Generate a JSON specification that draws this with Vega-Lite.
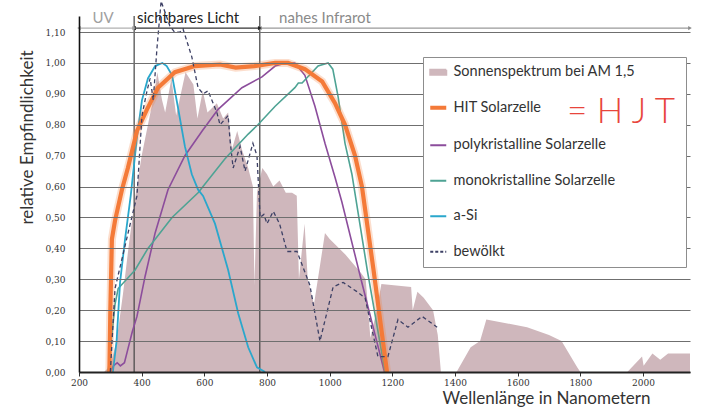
{
  "$schema": "https://vega.github.io/schema/vega-lite/v6.json",
  "width": 611,
  "height": 356,
  "autosize": {"type": "none"},
  "padding": {"left": 79, "top": 16, "right": 30, "bottom": 47},
  "background": "white",
  "config": {"view": {"stroke": null}, "axisY": {"tickCount": 12, "labelOverlap": false}},
  "datasets": {
    "spec": [
      {"nm":280,"v":0},{"nm":300,"v":0.02},{"nm":320,"v":0.1},{"nm":340,"v":0.25},{"nm":360,"v":0.42},{"nm":380,"v":0.57},{"nm":400,"v":0.70},{"nm":420,"v":0.80},{"nm":440,"v":0.90},{"nm":450,"v":0.97},{"nm":465,"v":0.88},{"nm":475,"v":0.84},{"nm":495,"v":0.95},{"nm":510,"v":0.83},{"nm":540,"v":0.97},{"nm":565,"v":0.93},{"nm":578,"v":0.82},{"nm":595,"v":0.91},{"nm":610,"v":0.84},{"nm":640,"v":0.87},{"nm":660,"v":0.82},{"nm":676,"v":0.84},{"nm":688,"v":0.72},{"nm":705,"v":0.78},{"nm":720,"v":0.72},{"nm":740,"v":0.66},{"nm":755,"v":0.60},{"nm":760,"v":0.28},{"nm":768,"v":0.58},{"nm":785,"v":0.66},{"nm":800,"v":0.64},{"nm":820,"v":0.60},{"nm":840,"v":0.62},{"nm":860,"v":0.58},{"nm":880,"v":0.58},{"nm":895,"v":0.57},{"nm":902,"v":0.30},{"nm":920,"v":0.48},{"nm":930,"v":0.30},{"nm":950,"v":0.22},{"nm":970,"v":0.35},{"nm":985,"v":0.45},{"nm":1000,"v":0.43},{"nm":1050,"v":0.38},{"nm":1100,"v":0.32},{"nm":1115,"v":0.30},{"nm":1130,"v":0.11},{"nm":1150,"v":0.20},{"nm":1165,"v":0.285},{"nm":1260,"v":0.275},{"nm":1265,"v":0.20},{"nm":1280,"v":0.26},{"nm":1300,"v":0.24},{"nm":1330,"v":0.20},{"nm":1345,"v":0.12},{"nm":1355,"v":0},{"nm":1405,"v":0},{"nm":1450,"v":0.08},{"nm":1480,"v":0.10},{"nm":1500,"v":0.17},{"nm":1630,"v":0.145},{"nm":1700,"v":0.12},{"nm":1740,"v":0.10},{"nm":1790,"v":0.015},{"nm":1800,"v":0},{"nm":1950,"v":0},{"nm":1997,"v":0.05},{"nm":2002,"v":0.02},{"nm":2030,"v":0.06},{"nm":2055,"v":0.04},{"nm":2080,"v":0.06},{"nm":2150,"v":0.06}
    ],
    "hit": [
      {"nm":297,"v":0},{"nm":300,"v":0.2},{"nm":305,"v":0.43},{"nm":315,"v":0.49},{"nm":337,"v":0.59},{"nm":356,"v":0.66},{"nm":385,"v":0.78},{"nm":417,"v":0.85},{"nm":452,"v":0.92},{"nm":506,"v":0.97},{"nm":570,"v":0.99},{"nm":650,"v":0.995},{"nm":700,"v":0.985},{"nm":760,"v":0.99},{"nm":826,"v":1.0},{"nm":867,"v":1.0},{"nm":921,"v":0.98},{"nm":976,"v":0.94},{"nm":1017,"v":0.87},{"nm":1049,"v":0.80},{"nm":1081,"v":0.70},{"nm":1103,"v":0.60},{"nm":1140,"v":0.33},{"nm":1183,"v":0}
    ],
    "poly": [
      {"nm":300,"v":0},{"nm":310,"v":0.02},{"nm":322,"v":0.03},{"nm":332,"v":0.02},{"nm":345,"v":0.03},{"nm":355,"v":0.07},{"nm":370,"v":0.13},{"nm":385,"v":0.18},{"nm":411,"v":0.31},{"nm":443,"v":0.45},{"nm":484,"v":0.59},{"nm":538,"v":0.70},{"nm":593,"v":0.78},{"nm":644,"v":0.85},{"nm":720,"v":0.92},{"nm":784,"v":0.955},{"nm":826,"v":0.99},{"nm":860,"v":1.0},{"nm":889,"v":1.0},{"nm":921,"v":0.96},{"nm":953,"v":0.86},{"nm":985,"v":0.74},{"nm":1017,"v":0.63},{"nm":1039,"v":0.55},{"nm":1100,"v":0.30},{"nm":1150,"v":0.10},{"nm":1175,"v":0}
    ],
    "mono": [
      {"nm":293,"v":0},{"nm":315,"v":0.22},{"nm":325,"v":0.27},{"nm":379,"v":0.33},{"nm":420,"v":0.40},{"nm":497,"v":0.50},{"nm":580,"v":0.58},{"nm":666,"v":0.69},{"nm":740,"v":0.77},{"nm":771,"v":0.80},{"nm":826,"v":0.86},{"nm":889,"v":0.92},{"nm":900,"v":0.935},{"nm":912,"v":0.935},{"nm":963,"v":0.99},{"nm":995,"v":1.0},{"nm":1010,"v":0.98},{"nm":1027,"v":0.89},{"nm":1049,"v":0.74},{"nm":1071,"v":0.64},{"nm":1120,"v":0.33},{"nm":1177,"v":0}
    ],
    "asi": [
      {"nm":308,"v":0},{"nm":320,"v":0.1},{"nm":331,"v":0.29},{"nm":347,"v":0.43},{"nm":365,"v":0.57},{"nm":385,"v":0.76},{"nm":401,"v":0.88},{"nm":420,"v":0.95},{"nm":443,"v":0.99},{"nm":466,"v":1.0},{"nm":480,"v":0.99},{"nm":497,"v":0.96},{"nm":516,"v":0.855},{"nm":538,"v":0.73},{"nm":560,"v":0.64},{"nm":580,"v":0.59},{"nm":596,"v":0.57},{"nm":634,"v":0.48},{"nm":676,"v":0.33},{"nm":708,"v":0.19},{"nm":740,"v":0.08},{"nm":768,"v":0.015},{"nm":794,"v":0}
    ],
    "clouds": [
      {"nm":300,"v":0},{"nm":315,"v":0.27},{"nm":345,"v":0.40},{"nm":373,"v":0.52},{"nm":385,"v":0.57},{"nm":401,"v":0.83},{"nm":417,"v":0.91},{"nm":427,"v":0.95},{"nm":437,"v":0.88},{"nm":449,"v":1.05},{"nm":462,"v":1.2},{"nm":490,"v":1.12},{"nm":505,"v":1.10},{"nm":522,"v":1.10},{"nm":532,"v":1.11},{"nm":560,"v":1.02},{"nm":580,"v":0.92},{"nm":596,"v":0.90},{"nm":612,"v":0.91},{"nm":640,"v":0.84},{"nm":650,"v":0.80},{"nm":676,"v":0.83},{"nm":682,"v":0.75},{"nm":692,"v":0.66},{"nm":714,"v":0.73},{"nm":730,"v":0.65},{"nm":755,"v":0.74},{"nm":768,"v":0.70},{"nm":778,"v":0.50},{"nm":790,"v":0.51},{"nm":800,"v":0.48},{"nm":820,"v":0.52},{"nm":840,"v":0.48},{"nm":864,"v":0.39},{"nm":896,"v":0.39},{"nm":937,"v":0.28},{"nm":969,"v":0.10},{"nm":1011,"v":0.275},{"nm":1043,"v":0.29},{"nm":1087,"v":0.26},{"nm":1113,"v":0.24},{"nm":1154,"v":0.05},{"nm":1186,"v":0.05},{"nm":1218,"v":0.17},{"nm":1250,"v":0.145},{"nm":1295,"v":0.18},{"nm":1343,"v":0.145}
    ],
    "bands": [
      {"band":"UV","from":200,"to":376,"labelAt":277},
      {"band":"sichtbares Licht","from":376,"to":777,"labelAt":548},
      {"band":"nahes Infrarot","from":777,"to":2150,"labelAt":985}
    ]
  },
  "layer": [
    {
      "data": {"name": "spec"},
      "mark": {"type": "area", "interpolate": "linear"},
      "encoding": {
        "x": {"field": "nm", "type": "quantitative",
          "scale": {"domain": [200, 2150], "nice": false, "zero": false},
          "axis": {"values": [200,400,600,800,1000,1200,1400,1600,1800,2000], "format": "d", "grid": false, "labelFlush": false,
            "tickSize": 4, "tickColor": "#333", "domainColor": "#222", "domainWidth": 2,
            "labelFont": "DejaVu Serif", "labelFontSize": 9, "labelColor": "#333", "labelPadding": 2,
            "title": "Wellenlänge in Nanometern", "titleFont": "Lato", "titleFontSize": 17, "titleFontWeight": "normal", "titleColor": "#333",
            "titleX": 571, "titleY": 26, "titleAlign": "right", "titleBaseline": "middle", "zindex": 1}},
        "y": {"field": "v", "type": "quantitative",
          "scale": {"domain": [0, 1.152], "nice": false, "zero": false},
          "axis": {"values": [0,0.1,0.2,0.3,0.4,0.5,0.6,0.7,0.8,0.9,1.0,1.1], "tickCount": 12, "labelOverlap": false,
            "labelExpr": "replace(format(datum.value, '.2f'), '.', ',')",
            "grid": true, "gridColor": "#6f6f6f", "gridWidth": 1.2, "ticks": false,
            "domainColor": "#111", "domainWidth": 1.6,
            "labelFont": "DejaVu Serif", "labelFontSize": 9, "labelColor": "#333", "labelPadding": 14,
            "title": "relative Empfindlichkeit", "titleFont": "Lato", "titleFontSize": 17, "titleFontWeight": "normal", "titleColor": "#333",
            "titleX": -52, "titleY": 121, "titleAngle": 270, "titleAlign": "center", "titleBaseline": "middle", "zindex": 1}},
        "color": {"datum": "Sonnenspektrum bei AM 1,5", "type": "nominal",
          "scale": {"domain": ["Sonnenspektrum bei AM 1,5","HIT Solarzelle","polykristalline Solarzelle","monokristalline Solarzelle","a-Si","bewölkt"],
                    "range": ["#cfb7bc","#f47a38","#8c4d9c","#4ea394","#2aa7cc","#3d4065"]},
          "legend": {"orient": "none", "legendX": 344, "legendY": 41, "zindex": 2,
            "title": ["", "= H J T"], "titleOrient": "right", "titleAnchor": "start", "titlePadding": -68,
            "titleFont": "Lato", "titleFontSize": 35, "titleFontWeight": 300, "titleLineHeight": 30, "titleColor": "#e8453c", "titleLimit": 300,
            "labelFont": "Lato", "labelFontSize": 14.5, "labelColor": "#333", "labelOffset": 8, "labelLimit": 300,
            "symbolType": "stroke", "symbolSize": 256, "symbolStrokeWidth": 2, "rowPadding": 20.5, "padding": 8,
            "fillColor": "#ffffff", "strokeColor": "#8d8d8d",
            "encode": {"symbols": {"update": {
              "shape": {"signal": "datum.value === 'Sonnenspektrum bei AM 1,5' ? 'M-1,-0.3H1V0.3H-1Z' : 'stroke'"},
              "fill": {"signal": "datum.value === 'Sonnenspektrum bei AM 1,5' ? '#c2b2b6' : 'transparent'"},
              "stroke": {"signal": "datum.value === 'Sonnenspektrum bei AM 1,5' ? 'transparent' : scale('color', datum.value)"},
              "strokeWidth": {"signal": "datum.value === 'HIT Solarzelle' ? 4 : 2"},
              "strokeDash": {"signal": "datum.value === 'bewölkt' ? [3,2] : [1,0]"},
              "opacity": {"value": 1}
            }}}}}
      }
    },
    {
      "data": {"values": [{"nm": 376}, {"nm": 777}]},
      "mark": {"type": "rule", "color": "#444", "strokeWidth": 1.2},
      "encoding": {"x": {"field": "nm", "type": "quantitative"}}
    },
    {
      "data": {"name": "poly"},
      "mark": {"type": "line", "strokeWidth": 1.6},
      "encoding": {"x": {"field": "nm", "type": "quantitative"}, "y": {"field": "v", "type": "quantitative"},
        "color": {"datum": "polykristalline Solarzelle", "type": "nominal"}}
    },
    {
      "data": {"name": "mono"},
      "mark": {"type": "line", "strokeWidth": 1.6},
      "encoding": {"x": {"field": "nm", "type": "quantitative"}, "y": {"field": "v", "type": "quantitative"},
        "color": {"datum": "monokristalline Solarzelle", "type": "nominal"}}
    },
    {
      "data": {"name": "asi"},
      "mark": {"type": "line", "strokeWidth": 1.8},
      "encoding": {"x": {"field": "nm", "type": "quantitative"}, "y": {"field": "v", "type": "quantitative"},
        "color": {"datum": "a-Si", "type": "nominal"}}
    },
    {
      "data": {"name": "hit"},
      "mark": {"type": "line", "strokeWidth": 8, "opacity": 0.25},
      "encoding": {"x": {"field": "nm", "type": "quantitative"}, "y": {"field": "v", "type": "quantitative"},
        "color": {"datum": "HIT Solarzelle", "type": "nominal"}}
    },
    {
      "data": {"name": "hit"},
      "mark": {"type": "line", "strokeWidth": 4.2},
      "encoding": {"x": {"field": "nm", "type": "quantitative"}, "y": {"field": "v", "type": "quantitative"},
        "color": {"datum": "HIT Solarzelle", "type": "nominal"}}
    },
    {
      "data": {"name": "clouds"},
      "mark": {"type": "line", "strokeWidth": 1.3, "strokeDash": [4, 3]},
      "encoding": {"x": {"field": "nm", "type": "quantitative"}, "y": {"field": "v", "type": "quantitative"},
        "color": {"datum": "bewölkt", "type": "nominal"}}
    },
    {
      "data": {"name": "bands"},
      "mark": {"type": "rule", "strokeWidth": 1.2},
      "encoding": {"x": {"field": "from", "type": "quantitative"}, "x2": {"field": "to"}, "y": {"datum": 1.113, "type": "quantitative"},
        "stroke": {"field": "band", "type": "nominal", "scale": {"domain": ["UV","sichtbares Licht","nahes Infrarot"], "range": ["#b0b0b0","#333333","#9a9a9a"]}, "legend": null}}
    },
    {
      "data": {"name": "bands"},
      "mark": {"type": "point", "shape": "triangle-left", "filled": true, "size": 18, "opacity": 1},
      "encoding": {"x": {"field": "from", "type": "quantitative"}, "y": {"datum": 1.113, "type": "quantitative"},
        "fill": {"field": "band", "type": "nominal", "scale": {"domain": ["UV","sichtbares Licht","nahes Infrarot"], "range": ["#a0a0a0","#222222","#8a8a8a"]}, "legend": null}}
    },
    {
      "data": {"name": "bands"},
      "mark": {"type": "point", "shape": "triangle-right", "filled": true, "size": 18, "opacity": 1},
      "encoding": {"x": {"field": "to", "type": "quantitative"}, "y": {"datum": 1.113, "type": "quantitative"},
        "fill": {"field": "band", "type": "nominal", "legend": null}}
    },
    {
      "data": {"name": "bands"},
      "mark": {"type": "text", "font": "Lato", "fontSize": 15, "baseline": "alphabetic", "align": "center"},
      "encoding": {"x": {"field": "labelAt", "type": "quantitative"}, "y": {"datum": 1.129, "type": "quantitative"},
        "text": {"field": "band"},
        "fill": {"field": "band", "type": "nominal", "legend": null}}
    }
  ]
}
